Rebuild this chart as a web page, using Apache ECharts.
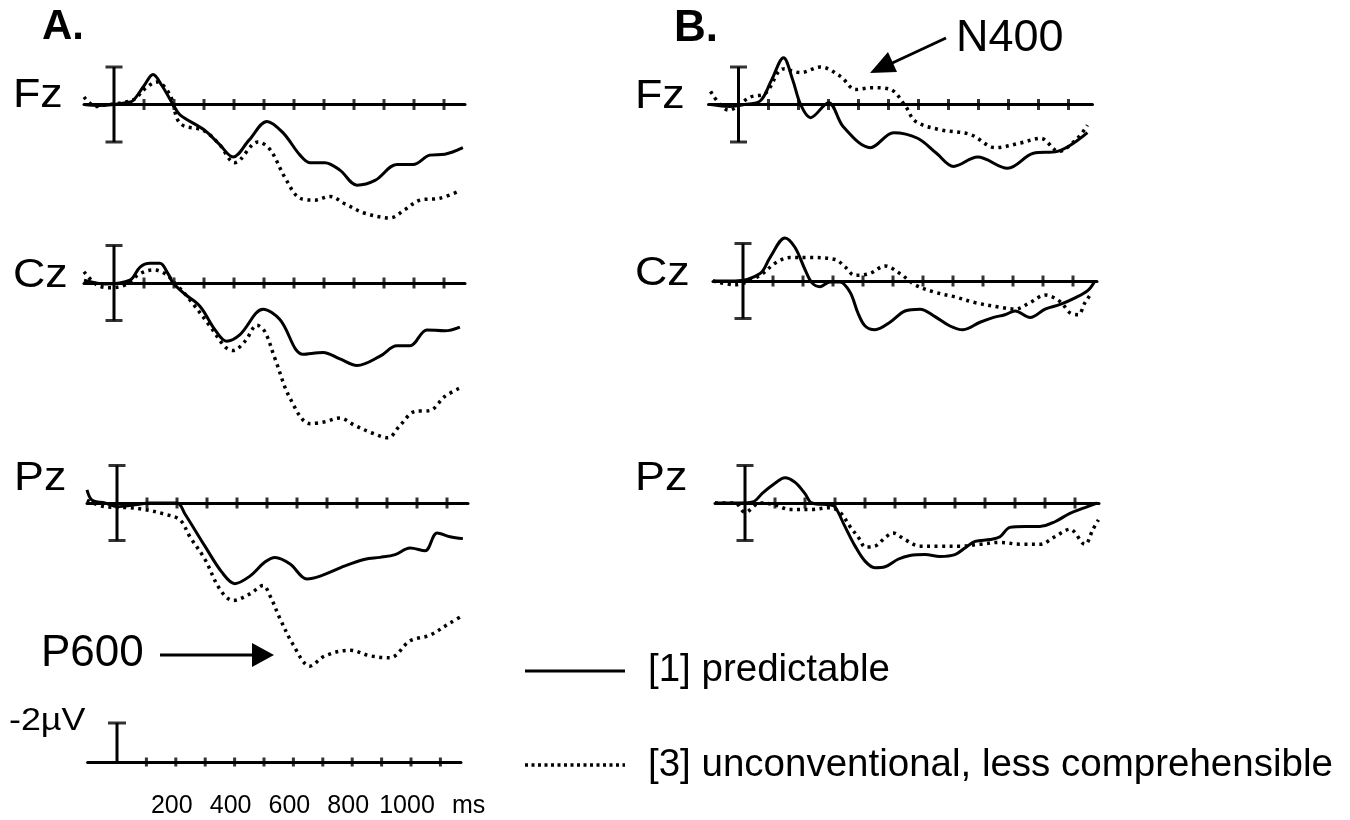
<!DOCTYPE html>
<html>
<head>
<meta charset="utf-8">
<title>ERP waveforms</title>
<script src="https://cdn.jsdelivr.net/npm/echarts/dist/echarts.min.js"></script>
<style>
  html, body { margin: 0; padding: 0; background: #fff; }
  #chart { width: 1350px; height: 820px; }
</style>
</head>
<body>
<div id="chart"></div>
<script>
// time in ms, amplitude in µV (negative plotted up)
const aFzSolid = [[-100,0],[-50,0.05],[0,0],[40,-0.1],[63,-0.2],[100,-1.0],[130,-1.6],[160,-1.0],[197,0],[220,0.55],[300,1.35],[350,2.1],[397,2.8],[450,1.9],[510,0.9],[563,1.5],[620,2.7],[653,3.1],[703,3.1],[753,3.5],[810,4.3],[870,4.05],[943,3.2],[997,3.2],[1053,2.7],[1103,2.65],[1163,2.3]];
const aFzDotted = [[-100,-0.4],[-60,0.1],[-20,0],[30,-0.1],[70,-0.3],[100,-0.8],[143,-1.2],[187,-0.5],[220,1.0],[300,1.4],[350,2.1],[403,3.1],[480,2.0],[520,2.4],[570,3.9],[620,5.0],[670,5.1],[720,4.9],[770,5.3],[837,5.8],[920,6.05],[970,5.6],[1020,5.1],[1087,5.0],[1153,4.6]];

const aCzSolid = [[-100,-0.15],[-30,0.05],[53,-0.15],[87,-0.85],[120,-1.05],[153,-1.05],[180,-0.5],[197,0],[237,0.6],[287,1.25],[337,2.5],[375,3.1],[420,2.75],[497,1.4],[553,1.95],[630,3.8],[697,3.7],[753,4.05],[810,4.4],[887,3.9],[943,3.35],[987,3.35],[1043,2.5],[1103,2.55],[1153,2.35]];
const aCzDotted = [[-100,-0.6],[-57,0.1],[-13,0.25],[37,0.1],[87,-0.5],[130,-0.7],[170,-0.5],[203,0],[253,0.9],[320,2.3],[370,3.4],[397,3.6],[437,3.1],[477,2.25],[503,2.6],[537,4.05],[587,6.15],[653,7.5],[703,7.4],[753,7.2],[803,7.6],[860,8.0],[913,8.25],[953,7.6],[1003,6.85],[1053,6.8],[1103,6.05],[1153,5.6]];

const aPzSolid = [[-100,-0.7],[-83,-0.15],[-40,0],[0,0.2],[60,0.1],[110,0],[200,0],[227,0.6],[293,2.3],[350,3.7],[393,4.3],[443,3.9],[493,3.15],[527,2.9],[577,3.25],[633,4.05],[677,3.9],[760,3.35],[827,3.0],[877,2.9],[927,2.75],[977,2.4],[1027,2.55],[1067,1.6],[1110,1.8],[1153,1.9]];
const aPzDotted = [[-100,-0.15],[-40,0.2],[43,0.25],[93,0.35],[160,0.6],[210,0.9],[243,1.8],[293,3.0],[343,4.6],[387,5.2],[443,4.85],[487,4.4],[510,4.95],[543,6.15],[587,7.55],[643,8.7],[693,8.15],[777,7.85],[843,8.15],[910,8.25],[977,7.35],[1043,7.05],[1110,6.4],[1153,6.0]];

const bFzSolid = [[-93,0],[-30,0.1],[20,0],[73,-0.2],[110,-1.3],[150,-2.5],[180,-1.35],[207,0],[240,0.7],[300,-0.1],[350,1.2],[440,2.3],[517,1.5],[597,1.8],[660,2.6],[717,3.3],[797,2.8],[897,3.4],[983,2.6],[1063,2.5],[1163,1.5]];
const bFzDotted = [[-93,-0.7],[-33,0.3],[40,-0.4],[90,-0.6],[150,-1.9],[207,-1.7],[273,-2.0],[340,-1.5],[390,-0.8],[447,-0.9],[507,-0.8],[557,0.1],[590,0.9],[673,1.35],[773,1.6],[857,2.3],[940,2.05],[1007,1.8],[1067,2.5],[1130,1.8],[1163,1.1]];

const bCzSolid = [[-100,0],[-27,0],[57,-0.4],[90,-1.25],[140,-2.3],[173,-1.8],[207,-0.6],[230,0.1],[257,0.3],[290,0.05],[323,0.05],[357,0.6],[383,1.7],[407,2.4],[440,2.6],[490,2.2],[540,1.6],[590,1.5],[640,1.9],[690,2.4],[733,2.6],[790,2.2],[833,1.95],[873,1.8],[907,1.6],[957,1.95],[1007,1.5],[1057,1.25],[1107,0.9],[1150,0.5],[1173,0]];
const bCzDotted = [[-100,0],[-27,0.2],[57,-0.3],[107,-0.95],[157,-1.25],[223,-1.25],[307,-1.15],[340,-0.75],[373,-0.3],[423,-0.4],[473,-0.8],[523,-0.4],[573,0.2],[640,0.6],[707,0.85],[773,1.15],[857,1.4],[907,1.5],[957,1.15],[1007,0.75],[1057,1.1],[1090,1.7],[1117,1.8],[1140,1.15],[1157,0.75]];

const bPzSolid = [[-100,0],[-17,0],[25,-0.05],[60,-0.55],[100,-1.05],[133,-1.35],[167,-1.1],[200,-0.5],[223,0],[283,0.1],[300,0.2],[333,1.25],[367,2.3],[400,3.1],[433,3.45],[467,3.4],[510,3.0],[550,2.8],[600,2.75],[650,2.85],[700,2.75],[733,2.4],[767,2.05],[817,1.95],[850,1.8],[883,1.3],[933,1.25],[983,1.25],[1033,1.0],[1083,0.55],[1133,0.25],[1173,0]];
const bPzDotted = [[-100,0],[-33,0],[0,0.5],[50,0],[100,0.1],[150,0.35],[217,0.35],[283,0.25],[317,0.5],[350,1.25],[383,1.95],[400,2.35],[433,2.3],[467,1.85],[493,1.6],[533,1.95],[583,2.3],[650,2.3],[717,2.3],[783,2.2],[850,2.1],[917,2.2],[983,2.2],[1033,1.8],[1083,1.4],[1133,2.2],[1160,1.4],[1178,0.9]];

const tickTimes = [100, 200, 300, 400, 500, 600, 700, 800, 900, 1000, 1100];
const scaleBar = [-2, 2];
const calibBar = [0, -2];
const timeLabels = [200, 400, 600, 800, 1000];

const FONT = "'Liberation Sans', Arial, sans-serif";
const PX_MS = 0.3;
const PX_UV = 18.75;
const Y_MIN = -3;
const Y_MAX = 9.5;

// panel placement: pixel x of t=0, pixel y of baseline
const panels = [
  { x0: 114, y0: 104.5, xMax: 1170, solid: aFzSolid, dotted: aFzDotted },
  { x0: 114, y0: 283, xMax: 1170, solid: aCzSolid, dotted: aCzDotted },
  { x0: 117, y0: 503, xMax: 1170, solid: aPzSolid, dotted: aPzDotted },
  { x0: 738.5, y0: 104.5, xMax: 1180, solid: bFzSolid, dotted: bFzDotted },
  { x0: 743, y0: 281, xMax: 1180, solid: bCzSolid, dotted: bCzDotted },
  { x0: 745, y0: 503, xMax: 1180, solid: bPzSolid, dotted: bPzDotted }
];

const grid = [];
const xAxis = [];
const yAxis = [];
const series = [];

function baseX(i, max) {
  return {
    type: "value", gridIndex: i, min: -100, max: max,
    axisLine: { show: true, onZero: true, lineStyle: { color: "#000", width: 3 } },
    axisTick: { show: false },
    axisLabel: { show: false },
    splitLine: { show: false }
  };
}
function baseY(i, min, max) {
  return { type: "value", gridIndex: i, min: min, max: max, inverse: true, show: false, splitLine: { show: false } };
}

panels.forEach(function (p, i) {
  grid.push({
    left: p.x0 - 100 * PX_MS,
    top: p.y0 + Y_MIN * PX_UV,
    width: (p.xMax + 100) * PX_MS,
    height: (Y_MAX - Y_MIN) * PX_UV,
    outerBoundsMode: "none"
  });
  xAxis.push(baseX(i, p.xMax));
  yAxis.push(baseY(i, Y_MIN, Y_MAX));

  series.push({
    type: "line", name: "[1] predictable", xAxisIndex: i, yAxisIndex: i,
    data: p.solid, symbol: "none", smooth: 0.35,
    lineStyle: { color: "#000", width: 3 }, z: 4
  });
  series.push({
    type: "line", name: "[3] unconventional, less comprehensible", xAxisIndex: i, yAxisIndex: i,
    data: p.dotted, symbol: "none", smooth: 0.35,
    lineStyle: { color: "#000", width: 3.5, type: [3, 4.5], cap: "butt" }, z: 4
  });
  series.push({
    type: "scatter", xAxisIndex: i, yAxisIndex: i,
    data: tickTimes.map(function (t) { return [t, 0]; }),
    symbol: "rect", symbolSize: [3, 11], itemStyle: { color: "#000" }, z: 3
  });
  series.push({
    type: "line", xAxisIndex: i, yAxisIndex: i,
    data: scaleBar.map(function (v) { return [0, v]; }),
    symbol: "none", lineStyle: { color: "#000", width: 3 }, z: 3
  });
  series.push({
    type: "scatter", xAxisIndex: i, yAxisIndex: i,
    data: scaleBar.map(function (v) { return [0, v]; }),
    symbol: "rect", symbolSize: [17, 3], itemStyle: { color: "#000" }, z: 3
  });
});

// calibration axis at the bottom (zero line = grid bottom, so labels hang from it)
const ci = panels.length;
const CAL_PX_MS = 0.294;
const CAL_PX_UV = 19.5;
grid.push({
  left: 117 - 100 * CAL_PX_MS, top: 762 - 3 * CAL_PX_UV,
  width: 1270 * CAL_PX_MS, height: 3 * CAL_PX_UV,
  outerBoundsMode: "none"
});
const calX = baseX(ci, 1170);
calX.interval = 100;
calX.axisLabel = {
  show: true, margin: 32, fontSize: 25, fontFamily: FONT, color: "#000", padding: [0, 8, 0, 0],
  formatter: function (v) { return timeLabels.indexOf(v) >= 0 ? String(v) : ""; }
};
xAxis.push(calX);
yAxis.push(baseY(ci, -3, 0));
series.push({
  type: "scatter", xAxisIndex: ci, yAxisIndex: ci, clip: false,
  data: tickTimes.map(function (t) { return [t, 0]; }),
  symbol: "rect", symbolSize: [3, 9], itemStyle: { color: "#000" }
});
series.push({
  type: "line", xAxisIndex: ci, yAxisIndex: ci,
  data: calibBar.map(function (v) { return [0, v]; }),
  symbol: "none", lineStyle: { color: "#000", width: 3 }
});
series.push({
  type: "scatter", xAxisIndex: ci, yAxisIndex: ci,
  data: [[0, calibBar[1]]],
  symbol: "rect", symbolSize: [18, 3], itemStyle: { color: "#000" }
});

function label(text, x, y, size, weight, scaleX) {
  return {
    type: "text", x: x, y: y, scaleX: scaleX || 1,
    style: { text: text, fontSize: size, fontFamily: FONT, fontWeight: weight || "normal", fill: "#000", align: "left", verticalAlign: "middle" }
  };
}

const graphic = [
  label("A.", 42, 27, 42, "bold"),
  label("B.", 674, 29, 44, "bold"),
  label("Fz", 13, 96, 40, "normal", 1.12),
  label("Cz", 13, 276, 40, "normal", 1.12),
  label("Pz", 14, 479, 40, "normal", 1.12),
  label("Fz", 635, 97, 40, "normal", 1.12),
  label("Cz", 635, 274, 40, "normal", 1.12),
  label("Pz", 635, 479, 40, "normal", 1.12),
  label("N400", 956, 39, 45),
  label("P600", 41, 654, 44),
  label("-2µV", 9, 721, 32, "normal", 1.12),
  label("ms", 452, 806, 25),
  label("[1] predictable", 648, 670, 38.5),
  label("[3] unconventional, less comprehensible", 648, 765, 38.5),
  // arrows
  { type: "line", shape: { x1: 160, y1: 655, x2: 256, y2: 655 }, style: { stroke: "#000", lineWidth: 3 } },
  { type: "polygon", shape: { points: [[252, 643], [274, 655], [252, 667]] }, style: { fill: "#000" } },
  { type: "line", shape: { x1: 946, y1: 38, x2: 888, y2: 65 }, style: { stroke: "#000", lineWidth: 3 } },
  { type: "polygon", shape: { points: [[870, 73], [897, 72], [888, 52]] }, style: { fill: "#000" } },
  // legend keys
  { type: "line", shape: { x1: 525, y1: 671, x2: 625, y2: 671 }, style: { stroke: "#000", lineWidth: 3 } },
  { type: "line", shape: { x1: 525, y1: 765, x2: 625, y2: 765 }, style: { stroke: "#000", lineWidth: 3.5, lineDash: [3, 3.5] } }
];

const chart = echarts.init(document.getElementById("chart"));
chart.setOption({
  animation: false,
  backgroundColor: "#fff",
  grid: grid,
  xAxis: xAxis,
  yAxis: yAxis,
  series: series.map(function (s) { s.silent = true; return s; }),
  graphic: graphic
});
</script>
</body>
</html>
